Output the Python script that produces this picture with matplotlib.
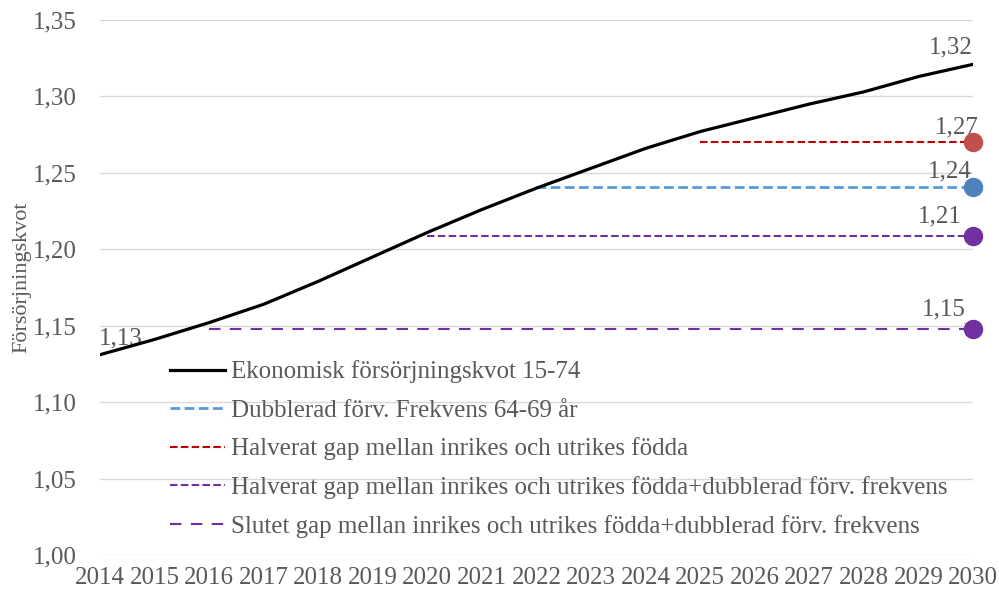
import matplotlib.pyplot as plt
import numpy as np

plt.rcParams['font.family'] = ['Liberation Serif', 'DejaVu Serif']

years = list(range(2014, 2031))
ekonomisk = [1.131, 1.141, 1.152, 1.164, 1.179, 1.195, 1.211, 1.226, 1.240,
             1.253, 1.266, 1.277, 1.286, 1.295, 1.303, 1.313, 1.321]

dubblerad_years = list(range(2022, 2031))
dubblerad = [1.241] * len(dubblerad_years)
halverat_years = list(range(2025, 2031))
halverat = [1.270] * len(halverat_years)
halv_dubb_years = list(range(2020, 2031))
halv_dubb = [1.209] * len(halv_dubb_years)
slutet_years = list(range(2016, 2031))
slutet = [1.148] * len(slutet_years)

names = ["Ekonomisk försörjningskvot 15-74",
         "Dubblerad förv. Frekvens 64-69 år",
         "Halverat gap mellan inrikes och utrikes födda",
         "Halverat gap mellan inrikes och utrikes födda+dubblerad förv. frekvens",
         "Slutet gap mellan inrikes och utrikes födda+dubblerad förv. frekvens"]

grey = '#595959'
fs = 18
fig = plt.figure(figsize=(9.99, 5.97), dpi=100)
ax = fig.add_axes([0.1, 0.0704, 0.874, 0.8961])

ax.plot(years, ekonomisk, color='black', lw=2.3, label=names[0], zorder=5)
ax.plot(dubblerad_years, dubblerad, color='#5B9BD5', lw=2.0, ls=(0, (3.5, 1.6)), label=names[1])
ax.plot(halverat_years, halverat, color='#C00000', lw=1.5, ls=(0, (3.6, 1.6)), label=names[2])
ax.plot(halv_dubb_years, halv_dubb, color='#7030A0', lw=1.5, ls=(0, (3.6, 1.6)), label=names[3])
ax.plot(slutet_years, slutet, color='#7030A0', lw=1.5, ls=(0, (5.5, 4.5)), label=names[4])

# end markers
ax.plot(halverat_years[-1], halverat[-1], 'o', color='#C0504D', ms=13, zorder=6, clip_on=False)
ax.plot(dubblerad_years[-1], dubblerad[-1], 'o', color='#4F81BD', ms=13, zorder=6, clip_on=False)
ax.plot(halv_dubb_years[-1], halv_dubb[-1], 'o', color='#7030A0', ms=13, zorder=6, clip_on=False)
ax.plot(slutet_years[-1], slutet[-1], 'o', color='#7030A0', ms=13, zorder=6, clip_on=False)

# data labels
ax.annotate('1,32', (years[-1], ekonomisk[-1]), xytext=(-16, 4), textcoords='offset points',
            ha='center', va='bottom', fontsize=fs, color=grey)
ax.annotate('1,27', (2030, halverat[-1]), xytext=(-12, 3), textcoords='offset points',
            ha='center', va='bottom', fontsize=fs, color=grey)
ax.annotate('1,24', (2030, dubblerad[-1]), xytext=(-17, 3), textcoords='offset points',
            ha='center', va='bottom', fontsize=fs, color=grey)
ax.annotate('1,21', (2030, halv_dubb[-1]), xytext=(-24, 6), textcoords='offset points',
            ha='center', va='bottom', fontsize=fs, color=grey)
ax.annotate('1,15', (2030, slutet[-1]), xytext=(-21, 6), textcoords='offset points',
            ha='center', va='bottom', fontsize=fs, color=grey,
            arrowprops=dict(arrowstyle='-', color='#A6A6A6', lw=0.8, shrinkA=0, shrinkB=3))
ax.annotate('1,13', (years[0], ekonomisk[0]), xytext=(15, 4), textcoords='offset points',
            ha='center', va='bottom', fontsize=fs, color=grey)

ax.set_xlim(2014, 2030)
ax.set_ylim(1.0, 1.35)
ax.set_xticks(years)
yt = np.arange(1.0, 1.351, 0.05)
ax.set_yticks(yt)
ax.set_yticklabels([f"{v:.2f}".replace('.', ',') for v in yt])
ax.tick_params(axis='both', length=0, labelsize=fs, labelcolor=grey)
ax.tick_params(axis='y', pad=16.5)
ax.tick_params(axis='x', pad=9)
ax.grid(axis='y', color='#D9D9D9', lw=1)
ax.set_axisbelow(True)
for s in ax.spines.values():
    s.set_visible(False)
ax.set_ylabel('Försörjningskvot', fontsize=16, color=grey)
ax.yaxis.set_label_coords(-0.078, 0.52)

leg = ax.legend(loc='lower left', bbox_to_anchor=(0.054, -0.01), frameon=False, fontsize=fs,
                handlelength=2.2, handletextpad=0.25, labelspacing=0.63, labelcolor=grey)

fig.savefig('out.png', dpi=100)
